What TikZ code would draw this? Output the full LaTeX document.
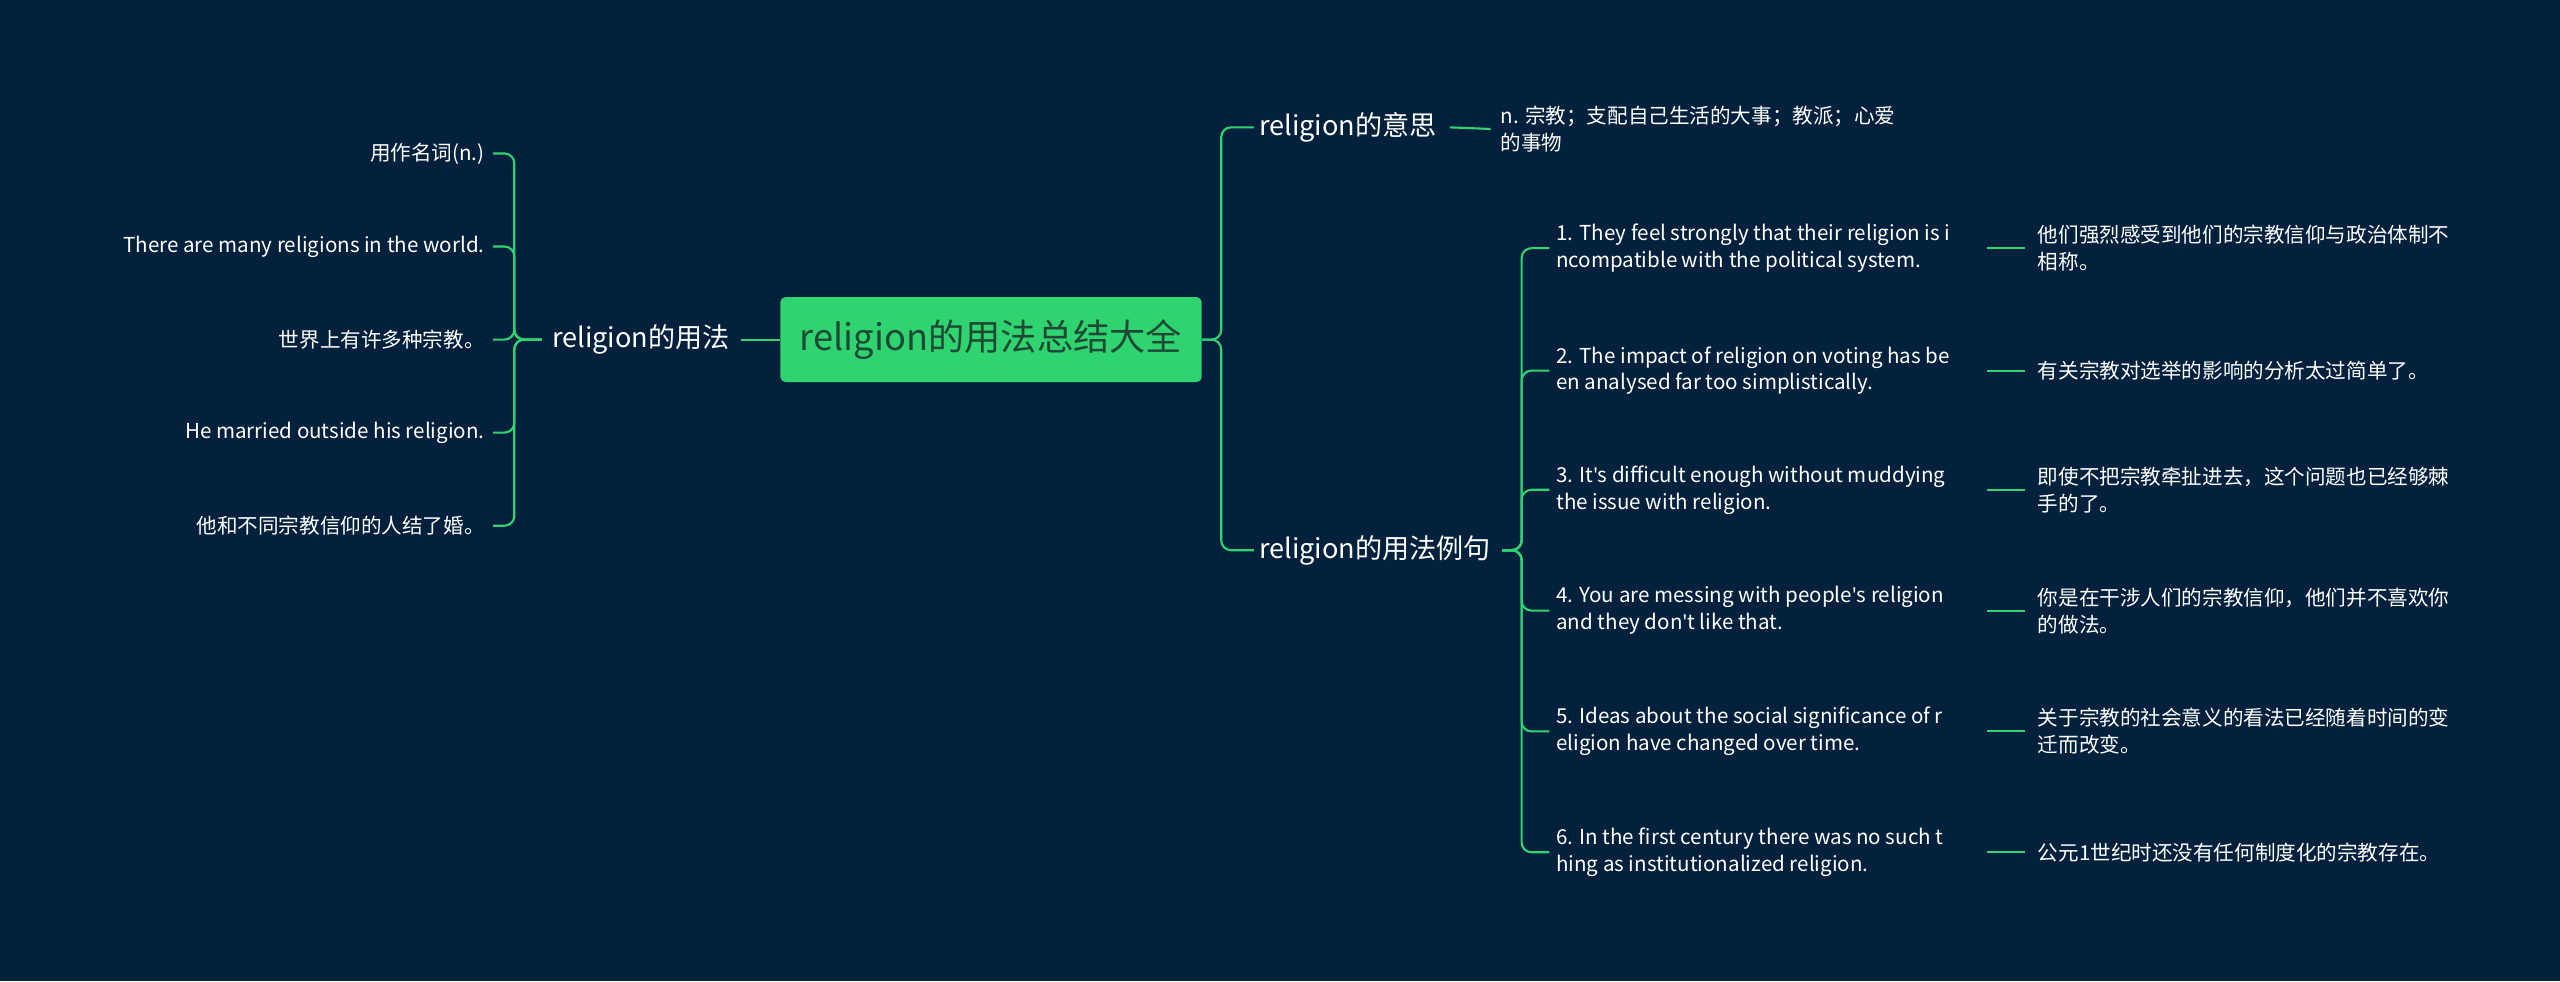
\documentclass[tikz,border=0pt]{standalone}
\usepackage{fontspec}
\setmainfont{Noto Sans CJK SC}
\newfontfamily\lat{Noto Sans}
\newcommand{\ap}{{\lat'}}
\definecolor{bg}{HTML}{03213D}
\definecolor{gr}{HTML}{2FD370}
\definecolor{rt}{HTML}{1E4A35}
\begin{document}
\begin{tikzpicture}[x=1pt,y=-1pt,
  leaf/.style={text=white,font=\fontsize{12.6}{16.5}\selectfont,inner sep=1pt,align=left},
  leafr/.style={leaf,align=right,anchor=east},
  br/.style={text=white,font=\fontsize{16.6}{18}\selectfont,inner sep=1pt},
  ln/.style={draw=gr,line width=1.3pt,rounded corners=6pt}]
\fill[bg] (0,0) rectangle (1568,601);
\useasboundingbox (0,0) rectangle (1568,601);
\node[fill=gr,rounded corners=3pt,minimum width=258pt,minimum height=52pt,text=rt,font=\fontsize{22.2}{24}\selectfont] (root) at (607,208) {religion的用法总结大全};
% left
\node[br,anchor=east] (L) at (448,208) {religion的用法};
\draw[ln] (root.west) -- ([xshift=6pt]L.east);
\coordinate (Lj) at ([xshift=-5pt]L.west);
\foreach \i/\y/\t in {1/94/{用作名词(n.)},2/151/{There are many religions in the world.},3/208/{世界上有许多种宗教。},4/265/{He married outside his religion.},5/322/{他和不同宗教信仰的人结了婚。}}{
  \node[leafr] (l\i) at (298,\y) {\t};
  \draw[ln] (Lj) -- (315,208) |- ([xshift=4pt]l\i.east);
}
% right
\node[br,anchor=west] (R1) at (770,78) {religion的意思};
\node[br,anchor=west] (R2) at (770,337) {religion的用法例句};
\draw[ln] (root.east) -- (748,208) |- ([xshift=-2pt]R1.west);
\draw[ln] (root.east) -- (748,208) |- ([xshift=-2pt]R2.west);
\node[leaf,anchor=west] (m) at (918,79) {n. 宗教；支配自己生活的大事；教派；心爱\\的事物};
\draw[ln] ([xshift=7pt]R1.east) -- ([xshift=-5pt]m.west);
\coordinate (Rj) at ([xshift=6pt]R2.east);
\foreach \i/\y/\e/\c in {
1/152/{1. They feel strongly that their religion is i\\ncompatible with the political system.}/{他们强烈感受到他们的宗教信仰与政治体制不\\相称。},
2/227/{2. The impact of religion on voting has be\\en analysed far too simplistically.}/{有关宗教对选举的影响的分析太过简单了。},
3/300/{3. It\ap s difficult enough without muddying\\the issue with religion.}/{即使不把宗教牵扯进去，这个问题也已经够棘\\手的了。},
4/374/{4. You are messing with people\ap s religion\\and they don\ap t like that.}/{你是在干涉人们的宗教信仰，他们并不喜欢你\\的做法。},
5/448/{5. Ideas about the social significance of r\\eligion have changed over time.}/{关于宗教的社会意义的看法已经随着时间的变\\迁而改变。},
6/522/{6. In the first century there was no such t\\hing as institutionalized religion.}/{公元1世纪时还没有任何制度化的宗教存在。}}{
  \node[leaf,anchor=west] (e\i) at (952,\y) {\e};
  \node[leaf,anchor=west] (c\i) at (1247,\y) {\c};
  \draw[ln] (Rj) -- (932,337) |- ([xshift=-3pt]e\i.west);
  \draw[ln] (1217,\y) -- ([xshift=-7pt]c\i.west);
}
\end{tikzpicture}
\end{document}
